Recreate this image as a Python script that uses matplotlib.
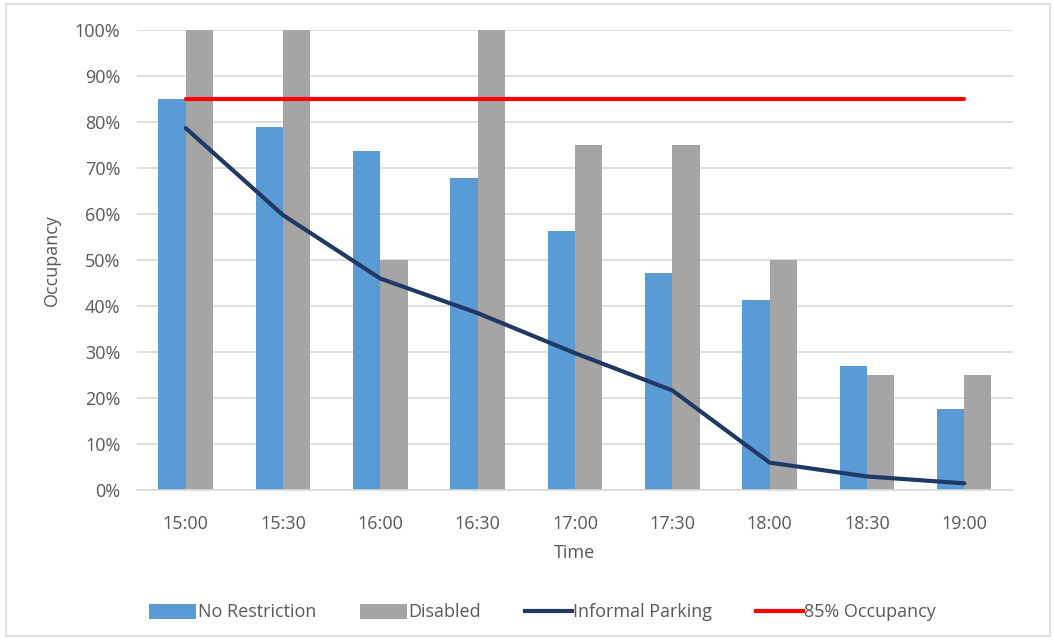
import numpy as np
import matplotlib
matplotlib.use("Agg")
import matplotlib.pyplot as plt
from matplotlib.patches import Rectangle, Patch
from matplotlib.lines import Line2D
from matplotlib.ticker import PercentFormatter

# ── data ────────────────────────────────────────────
times          = ["15:00", "15:30", "16:00", "16:30", "17:00", "17:30", "18:00", "18:30", "19:00"]
no_restriction = [85.0, 79.0, 73.7, 67.8, 56.3, 47.2, 41.3, 27.0, 17.6]
disabled       = [100, 100, 50, 100, 75, 75, 50, 25, 25]
informal       = [78.7, 59.8, 46.0, 38.5, 29.8, 21.7, 6.0, 3.0, 1.5]
threshold      = [85] * len(times)

BLUE  = "#5b9bd5"
GRAY  = "#a5a5a5"
NAVY  = "#203864"
RED   = "#ff0000"
TEXT  = "#595959"
GRID  = "#d9d9d9"
FS    = 13

plt.rcParams["font.family"] = ["Open Sans", "DejaVu Sans"]

fig = plt.figure(figsize=(10.54, 6.4), dpi=100)
ax = fig.add_axes([0.130, 0.234, 0.831, 0.719])

x = np.arange(len(times))
w = 0.28
ax.bar(x - w / 2, no_restriction, w, color=BLUE, zorder=2)
ax.bar(x + w / 2, disabled, w, color=GRAY, zorder=2)
ax.plot(x, informal, color=NAVY, lw=3, zorder=3, solid_capstyle="round")
ax.plot(x, threshold, color=RED, lw=3, zorder=3, solid_capstyle="round")

ax.set_xlim(-0.5, len(times) - 0.5)
ax.set_ylim(0, 100)
ax.set_yticks(np.arange(0, 101, 10))
ax.yaxis.set_major_formatter(PercentFormatter(decimals=0))
ax.set_xticks(x)
ax.set_xticklabels(times)
ax.tick_params(length=0, colors=TEXT, labelsize=FS)
ax.tick_params(axis="x", pad=18)
ax.tick_params(axis="y", pad=12)
ax.grid(axis="y", color=GRID, lw=1.2, zorder=0)
for s in ["top", "right", "left"]:
    ax.spines[s].set_visible(False)
ax.spines["bottom"].set_color(GRID)
ax.spines["bottom"].set_linewidth(1.2)

ax.set_xlabel("Time", color=TEXT, fontsize=FS, labelpad=8)
ax.set_ylabel("Occupancy", color=TEXT, fontsize=FS, labelpad=10)

handles = [
    Patch(facecolor=BLUE, label="No Restriction"),
    Patch(facecolor=GRAY, label="Disabled"),
    Line2D([], [], color=NAVY, lw=3, label="Informal Parking"),
    Line2D([], [], color=RED, lw=3, label="85% Occupancy"),
]
fig.legend(handles=handles, loc="center", bbox_to_anchor=(0.515, 0.043), ncol=4,
           frameon=False, fontsize=FS, handlelength=2.6, handleheight=0.9,
           handletextpad=0.1, columnspacing=2.4, labelcolor=TEXT)

# chart border
fig.patches.append(Rectangle((0.006, 0.006), 0.99, 0.988, transform=fig.transFigure,
                             fill=False, edgecolor=GRID, lw=1.2))

fig.savefig("out.png", dpi=100)
